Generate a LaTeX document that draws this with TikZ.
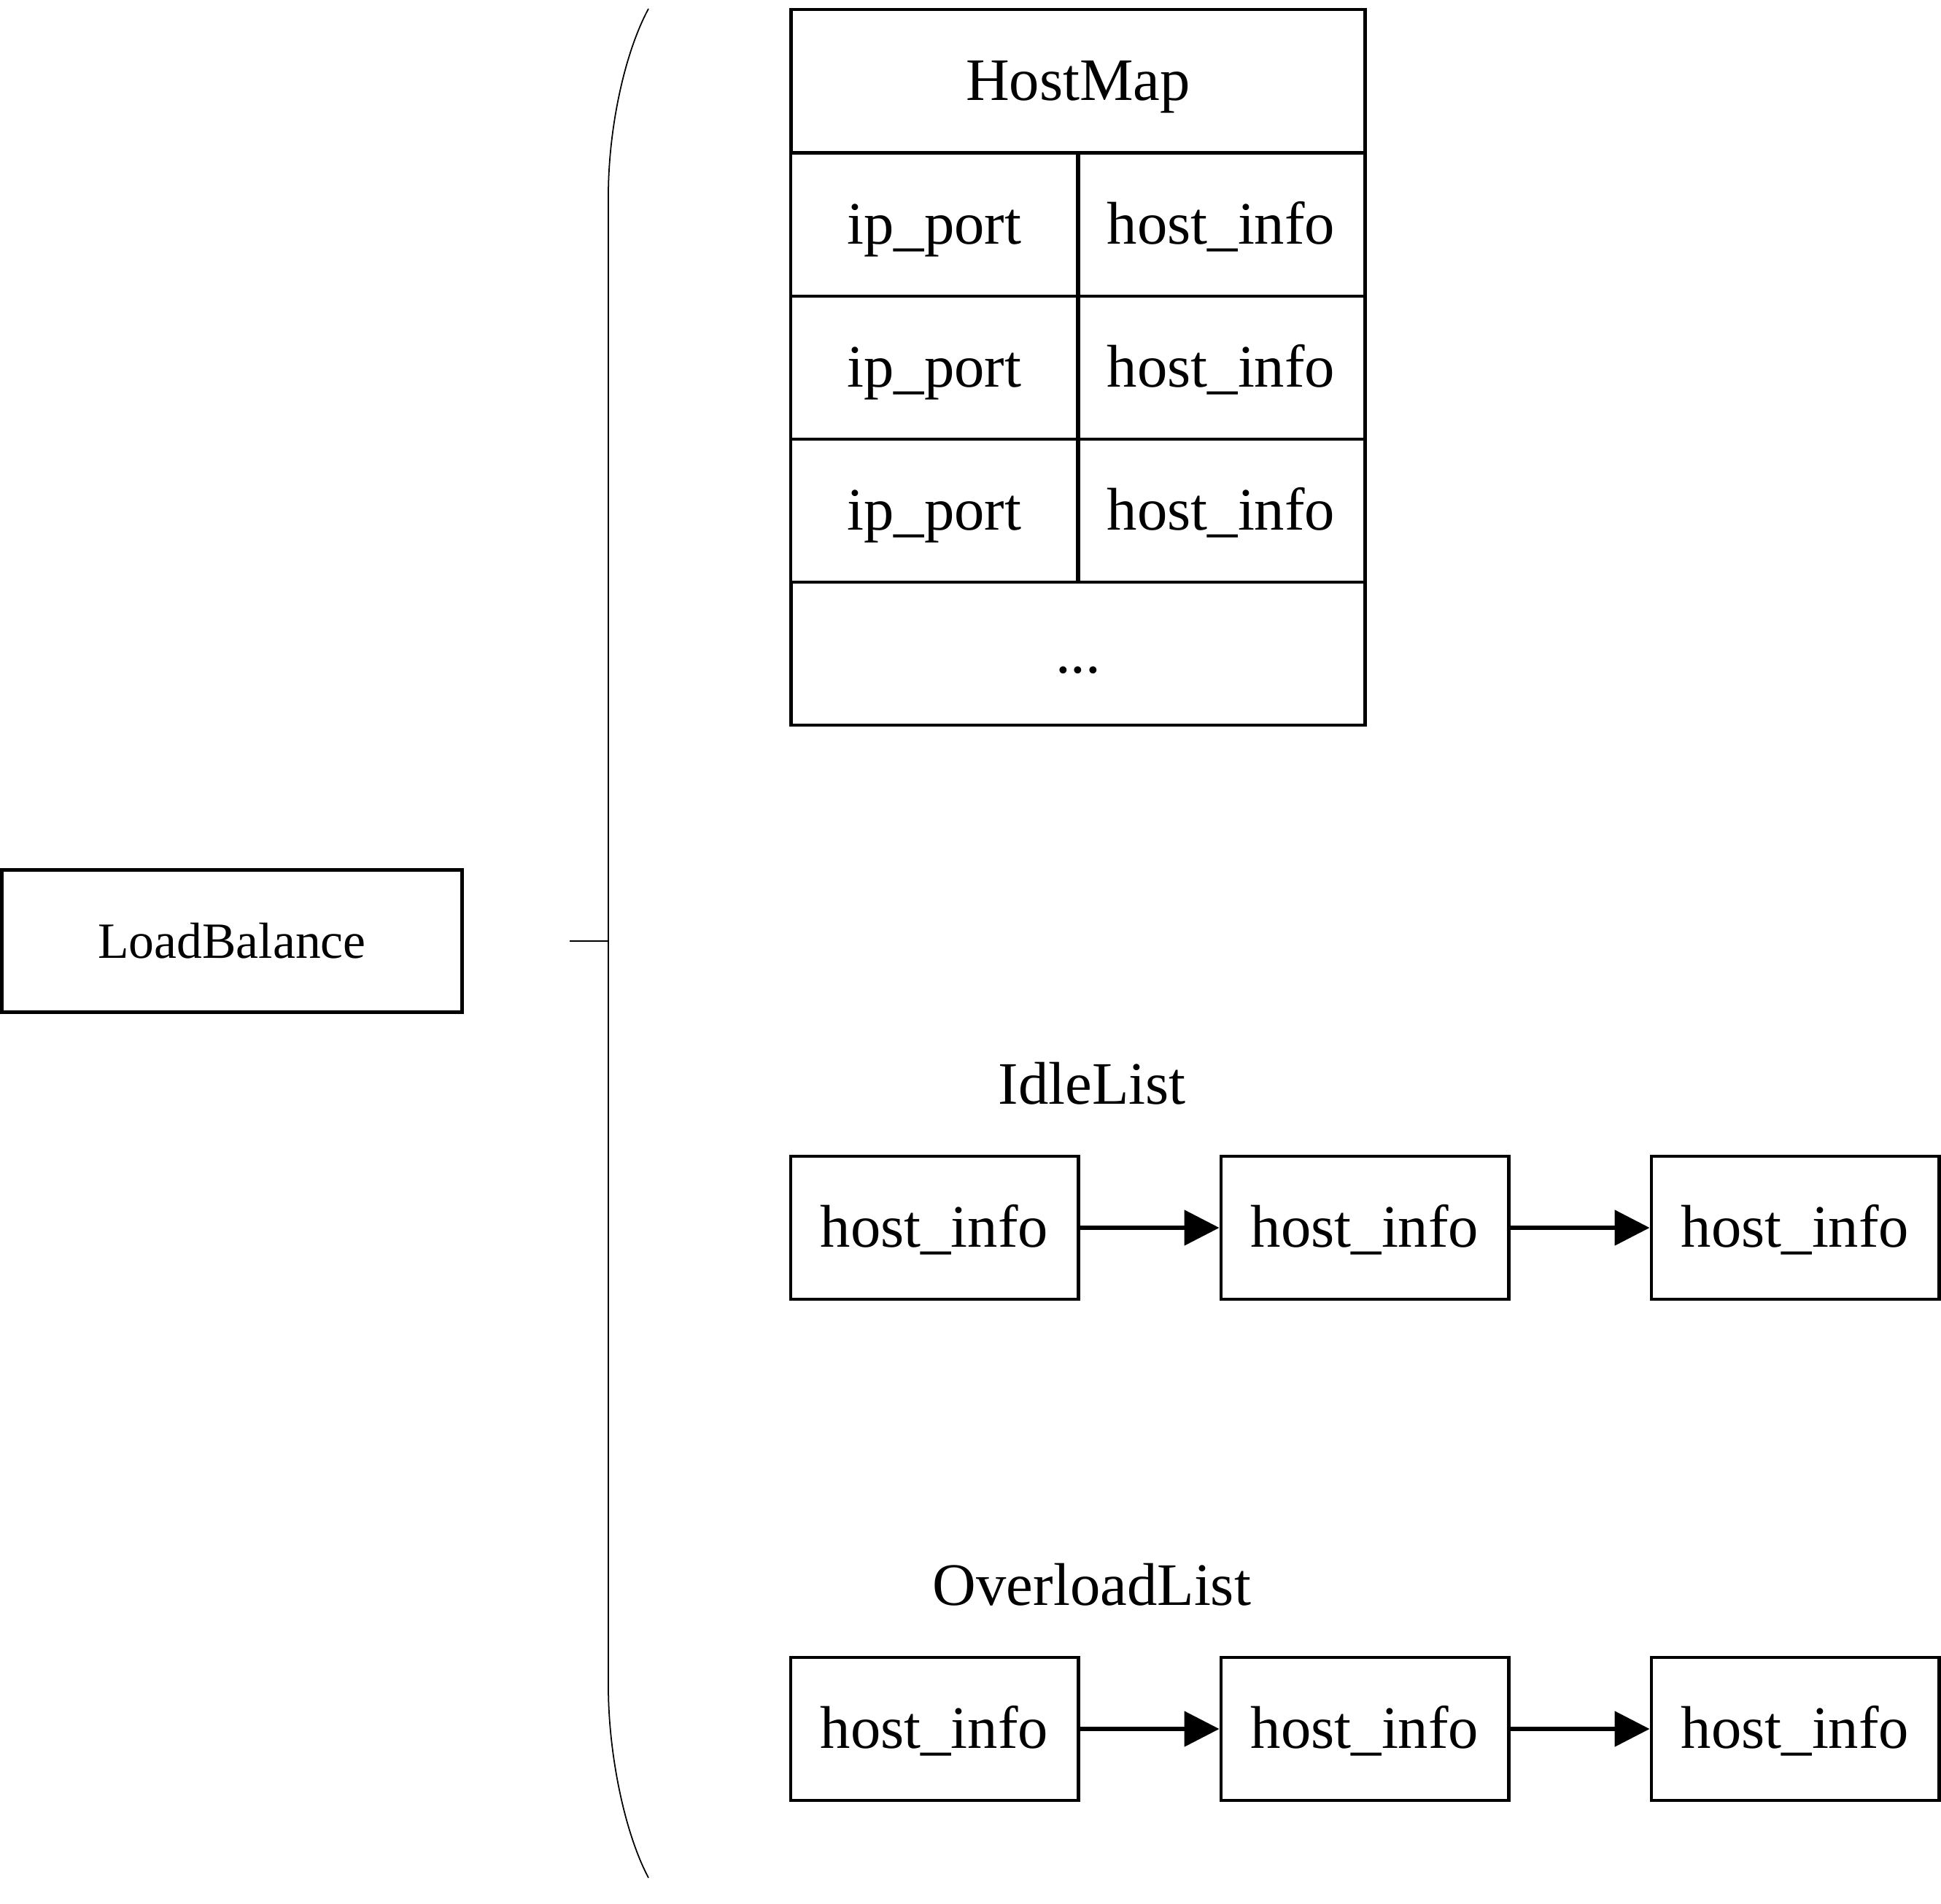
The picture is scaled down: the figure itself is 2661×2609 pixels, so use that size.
\documentclass[tikz,border=0pt]{standalone}
\usepackage{fontspec}
\setmainfont{Liberation Serif}
\usetikzlibrary{arrows.meta}
\begin{document}
\begin{tikzpicture}[x=0.01cm,y=-0.01cm]
      \tikzstyle{cell}=[draw,line width=1.35pt,minimum width=3.94cm,minimum height=1.96cm,inner sep=0pt,text height=18.8pt,text depth=3.8pt,font=\fontsize{23.5}{28}\selectfont]
      \tikzstyle{wide}=[cell,minimum width=7.86cm]
      \tikzstyle{title}=[font=\fontsize{23.5}{28}\selectfont]
      \tikzstyle{edge}=[draw,line width=1.5pt,-{Triangle[length=0.48cm,width=0.48cm]}]
      \useasboundingbox (0,0) rectangle (2661,2609);
      \node[draw,line width=1.35pt,minimum width=6.3cm,minimum height=1.95cm,font=\fontsize{19.8}{24}\selectfont] (lb) at (318,1290) {LoadBalance};
      % brace
      \coordinate (tick) at (781,1290);
      \coordinate (mid) at (834,1290);
      \coordinate (top) at (889,12);
      \coordinate (bot) at (889,2574);
      \draw[line width=0.5pt] (top) .. controls (855,75) and (834,180) .. (834,267) -- (834,2313) .. controls (834,2400) and (855,2510) .. (bot);
      \draw[line width=0.5pt] (tick) -- (mid);
      % host map
      \node[wide] (map) at (1478,111) {HostMap};
      \foreach \i/\y in {1/308,2/504,3/700} {
        \node[cell] (ip\i) at (1281,\y) {ip\_port};
        \node[cell] (info\i) at (1674,\y) {host\_info};
      }
      \node[wide] (dots) at (1478,896) {...};
      % lists
      \node[title] (idle) at (1497,1485) {IdleList};
      \node[cell] (i1) at (1281,1683) {host\_info};
      \node[cell] (i2) at (1871,1683) {host\_info};
      \node[cell] (i3) at (2461,1683) {host\_info};
      \node[title] (over) at (1497,2172) {OverloadList};
      \node[cell] (o1) at (1281,2370) {host\_info};
      \node[cell] (o2) at (1871,2370) {host\_info};
      \node[cell] (o3) at (2461,2370) {host\_info};
      \path[edge] (i1) -- (i2);
      \path[edge] (i2) -- (i3);
      \path[edge] (o1) -- (o2);
      \path[edge] (o2) -- (o3);
\end{tikzpicture}
\end{document}
